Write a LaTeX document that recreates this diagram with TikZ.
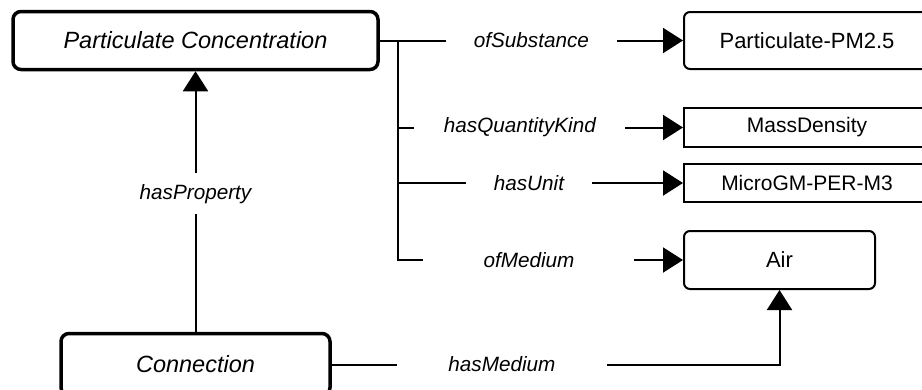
\documentclass[tikz,border=0pt]{standalone}
\usepackage{fontspec}
\setmainfont{Liberation Sans}
\usetikzlibrary{arrows.meta, positioning, calc}
% value boxes run past the right margin
\newcommand{\cutval}[1]{\makebox[246pt]{#1}\hspace{24pt}}

\begin{document}
\begin{tikzpicture}[
    x=1pt, y=-1pt,
    concept/.style={rectangle, draw, line width=3.5pt, rounded corners=8pt, minimum height=58pt, inner sep=0pt, font=\fontsize{23.5}{28}\selectfont\itshape},
    value/.style={rectangle, draw, line width=2pt, rounded corners=6pt, anchor=west, inner sep=0pt, font=\fontsize{22}{26}\selectfont},
    plain/.style={value, sharp corners, font=\fontsize{21}{25}\selectfont},
    lbl/.style={fill=white, inner xsep=28pt, inner ysep=11pt, font=\fontsize{20.7}{24}\selectfont\itshape},
    arrow/.style={-{Triangle[length=20pt, width=25pt]}, line width=2pt}
]
    \useasboundingbox (0,0) rectangle (922,389);
    \clip (0,0) rectangle (922,389);

    % Classes
    \node[concept, minimum width=365pt] (pc) at (195.5, 40.5) {Particulate Concentration};
    \node[concept, minimum width=269pt, minimum height=62pt] (conn) at (195.5, 364.5) {Connection};

    % Values
    \node[value, minimum height=57pt] (pm) at (683, 40.5) {\cutval{Particulate-PM2.5}};
    \node[plain, minimum height=39pt] (md) at (683, 127.5) {\cutval{MassDensity}};
    \node[plain, minimum height=38pt] (mu) at (683, 183) {\cutval{MicroGM-PER-M3}};
    \node[value, minimum width=191pt, minimum height=58pt] (air) at (683, 260) {Air};

    \coordinate (fork) at ($(pc.east)+(18,0)$);

    % Arrows
    \draw[arrow] (pc.east) -- node[lbl] {ofSubstance} (pm.west);
    \draw[arrow] (fork) |- node[lbl, pos=0.714, minimum width=211pt] {hasQuantityKind} (md.west);
    \draw[arrow] (fork) |- node[lbl, pos=0.73] {hasUnit} (mu.west);
    \draw[arrow] (fork) |- node[lbl, pos=0.73, minimum width=211pt] {ofMedium} (air.west);
    \draw[arrow] (conn.north) -- node[lbl, pos=0.53] {hasProperty} (pc.south);
    \draw[arrow] (conn.east) -| node[lbl, pos=0.19, minimum width=210pt] {hasMedium} (air.south);
\end{tikzpicture}
\end{document}
